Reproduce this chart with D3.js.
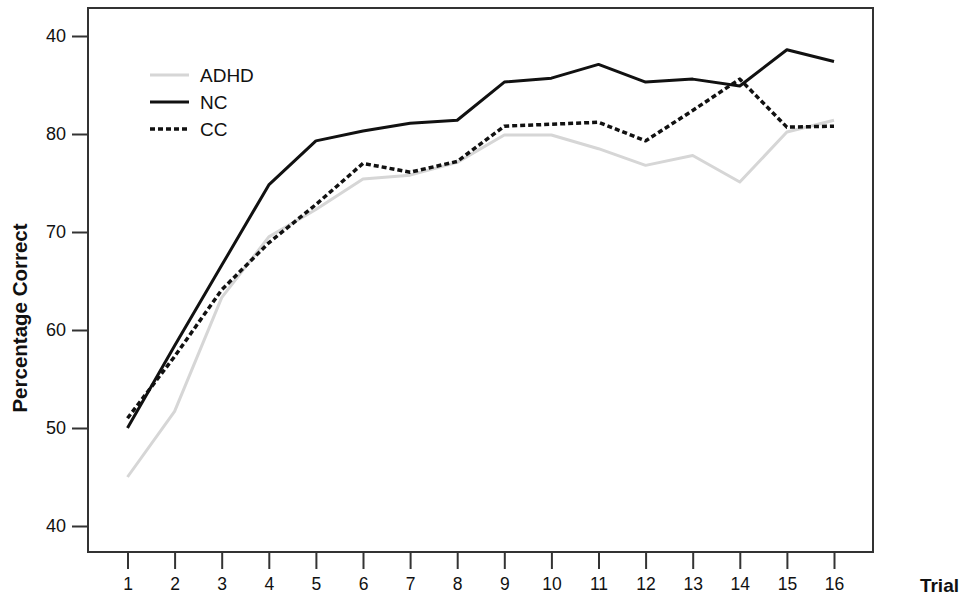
<!DOCTYPE html>
<html>
<head>
<meta charset="utf-8">
<script src="https://cdn.jsdelivr.net/npm/d3@7"></script>
<style>
  body { margin: 0; background: #fff; }
  svg { display: block; font-family: "Liberation Sans", Arial, sans-serif; }
</style>
</head>
<body>
<div id="chart"></div>
<script>
// data
var trials = [1,2,3,4,5,6,7,8,9,10,11,12,13,14,15,16]
var adhd = [45.0,51.7,63.3,69.5,72.3,75.4,75.8,77.1,79.9,79.9,78.5,76.8,77.8,75.1,80.2,81.4]
var nc   = [50.0,58.4,66.6,74.8,79.3,80.3,81.1,81.4,85.3,85.7,87.1,85.3,85.6,84.9,88.6,87.4]
var cc   = [51.0,57.3,64.1,68.9,72.8,77.0,76.1,77.2,80.8,81.0,81.2,79.3,82.4,85.6,80.7,80.8]
// y tick values and the labels as printed in the figure
var yTickValues = [90,80,70,60,50,40]
var yTickLabels = ["40","80","70","60","50","40"]
var seriesNames = ["ADHD","NC","CC"]

var width = 960, height = 597
//plot frame (window.top is taken, so plotTop)
var plotLeft = 88, plotRight = 873, plotTop = 8, plotBottom = 552

var svg = d3.select("#chart").append("svg")
    .attr("width", width).attr("height", height)

var x = d3.scaleLinear()
    .domain([1, 16])
    .range([127.5, 834])

var y = d3.scaleLinear()
    .domain([40, 90])
    .range([526, 36])

//frame
svg.append("rect")
    .attr("x", plotLeft).attr("y", plotTop)
    .attr("width", plotRight - plotLeft).attr("height", plotBottom - plotTop)
    .attr("fill", "none")
    .attr("stroke", "#333")
    .attr("stroke-width", 2)

//y axis
var yAxis = d3.axisLeft(y)
    .tickValues(yTickValues)
    .tickSize(16)
    .tickPadding(6)
    .tickFormat(function (d, i) { return yTickLabels[i] })
var gy = svg.append("g").attr("transform", "translate(" + plotLeft + ",0)").call(yAxis)
gy.select(".domain").remove()
gy.selectAll(".tick line").attr("stroke", "#333").attr("stroke-width", 2)
gy.selectAll(".tick text").attr("font-size", 18).attr("fill", "#111")
    .attr("font-family", "Liberation Sans, Arial, sans-serif")

//x axis
var xAxis = d3.axisBottom(x)
    .tickValues(trials)
    .tickSize(17)
    .tickPadding(9)
    .tickFormat(d3.format("d"))
var gx = svg.append("g").attr("transform", "translate(0," + plotBottom + ")").call(xAxis)
gx.select(".domain").remove()
gx.selectAll(".tick line").attr("stroke", "#333").attr("stroke-width", 2)
gx.selectAll(".tick text").attr("font-size", 17.5).attr("fill", "#111")
    .attr("font-family", "Liberation Sans, Arial, sans-serif")

//axis titles
svg.append("text")
    .attr("x", 959).attr("y", 592)
    .attr("text-anchor", "end")
    .attr("font-size", 19).attr("font-weight", "bold")
    .attr("fill", "#111")
    .text("Trial")

svg.append("text")
    .attr("transform", "translate(27,318) rotate(-90)")
    .attr("text-anchor", "middle")
    .attr("font-size", 20.5).attr("font-weight", "bold")
    .attr("fill", "#111")
    .text("Percentage Correct")

//lines
var line = d3.line()
    .x(function (d, i) { return x(trials[i]) })
    .y(function (d) { return y(d) })

var styles = [
    { data: adhd, color: "#d6d6d6", width: 3, dash: null },
    { data: nc, color: "#111", width: 3, dash: null },
    { data: cc, color: "#111", width: 3.5, dash: "5,3" }
]

styles.forEach(function (s) {
    svg.append("path")
        .datum(s.data)
        .attr("d", line)
        .attr("fill", "none")
        .attr("stroke", s.color)
        .attr("stroke-width", s.width)
        .attr("stroke-dasharray", s.dash)
        .attr("stroke-linejoin", "round")
})

//legend
var legendY = [75, 102, 129]
seriesNames.forEach(function (name, i) {
    var s = styles[i]
    svg.append("line")
        .attr("x1", 150).attr("x2", 189)
        .attr("y1", legendY[i]).attr("y2", legendY[i])
        .attr("stroke", s.color)
        .attr("stroke-width", s.width)
        .attr("stroke-dasharray", s.dash)
    svg.append("text")
        .attr("x", 200).attr("y", legendY[i] + 7)
        .attr("font-size", 19).attr("fill", "#111")
        .text(name)
})
</script>
</body>
</html>
